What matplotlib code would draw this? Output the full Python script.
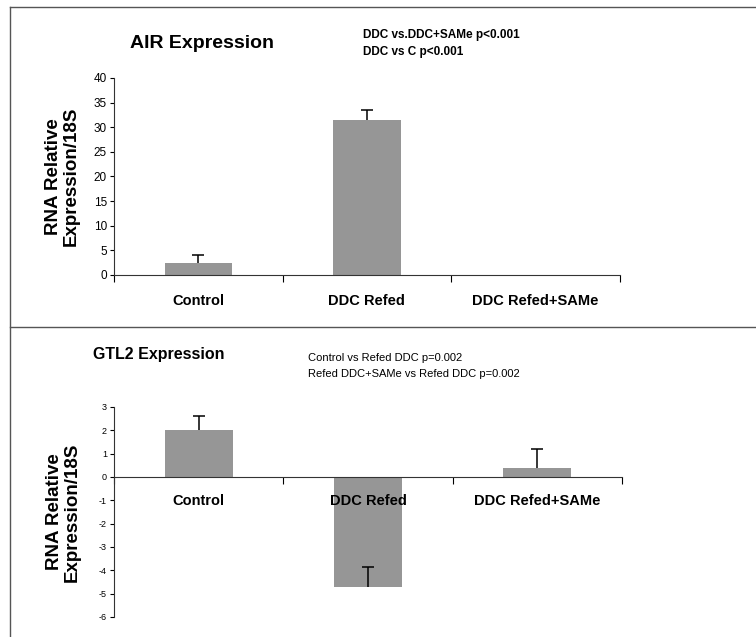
import matplotlib
matplotlib.use('Agg')
import matplotlib.pyplot as plt
from matplotlib.lines import Line2D

plt.rcParams['font.family'] = ['Liberation Sans Narrow', 'Liberation Sans', 'DejaVu Sans']
plt.rcParams['axes.unicode_minus'] = False

# Data
categories = ['Control', 'DDC Refed', 'DDC Refed+SAMe']

air_values = [2.5, 31.5, 0.0]
air_err = [1.5, 2.0, 0.0]

gtl2_values = [2.0, -4.7, 0.4]
gtl2_err = [0.6, 0.85, 0.8]

air_ticks = [0, 5, 10, 15, 20, 25, 30, 35, 40]
gtl2_ticks = [-6, -5, -4, -3, -2, -1, 0, 1, 2, 3]

bar_color = '#969696'
centers = [0.5, 1.5, 2.5]

fig = plt.figure(figsize=(7.56, 6.37), dpi=100)

# Frame lines around the panels
fig.add_artist(Line2D([0.0132, 1.0], [0.989, 0.989], color='#555555', lw=1))
fig.add_artist(Line2D([0.0132, 0.0132], [0.0, 0.989], color='#555555', lw=1))
fig.add_artist(Line2D([0.0132, 1.0], [0.4867, 0.4867], color='#555555', lw=1))


def style_axes(ax, ticks, tick_size, pad):
    ax.set_xlim(0, 3)
    ax.spines['top'].set_visible(False)
    ax.spines['right'].set_visible(False)
    ax.spines['left'].set_color('#333333')
    ax.spines['bottom'].set_color('#333333')
    ax.set_yticks(ticks)
    ax.tick_params(axis='y', length=3, width=0.8, labelsize=tick_size, pad=2)
    ax.set_xticks([0, 1, 2, 3])
    ax.set_xticklabels([])
    ax.tick_params(axis='x', which='major', length=5, width=0.8, direction='out')
    ax.set_xticks(centers, minor=True)
    ax.set_xticklabels(categories, minor=True, fontsize=10.5, fontweight='bold')
    ax.tick_params(axis='x', which='minor', length=0, pad=pad)


def plus_errors(ax, xs, vals, errs):
    # only the upper half of the error bar, with a cap on top
    tops = [v + e for v, e in zip(vals, errs)]
    ax.vlines(xs, vals, tops, color='black', lw=1.1)
    ax.plot(xs, tops, ls='none', marker='_', ms=8, mew=1.1, color='black')


# Top panel: AIR
ax1 = fig.add_axes([0.1508, 0.5683, 0.669, 0.3093])
ax1.bar(centers, air_values, width=0.4, color=bar_color)
plus_errors(ax1, centers[:2], air_values[:2], air_err[:2])
ax1.set_ylim(0, 40)
style_axes(ax1, air_ticks, 8.5, 14)
ax1.set_ylabel('RNA Relative\nExpression/18S', fontsize=13.5, fontweight='bold',
               family=['Liberation Sans', 'DejaVu Sans'], labelpad=10, linespacing=1.05)

fig.text(0.172, 0.932, 'AIR Expression', fontsize=14, fontweight='bold', va='center')
fig.text(0.48, 0.945, 'DDC vs.DDC+SAMe p<0.001', fontsize=8.5, fontweight='bold', va='center')
fig.text(0.48, 0.918, 'DDC vs C p<0.001', fontsize=8.5, fontweight='bold', va='center')

# Bottom panel: GTL2
ax2 = fig.add_axes([0.1508, 0.0314, 0.672, 0.3297])
ax2.bar(centers, gtl2_values, width=0.4, color=bar_color)
plus_errors(ax2, centers, gtl2_values, gtl2_err)
ax2.set_ylim(-6, 3)
ax2.spines['bottom'].set_position(('data', 0))
style_axes(ax2, gtl2_ticks, 6.5, 12)
ax2.set_ylabel('RNA Relative\nExpression/18S', fontsize=13.5, fontweight='bold',
               family=['Liberation Sans', 'DejaVu Sans'], labelpad=13, linespacing=1.05)

fig.text(0.123, 0.443, 'GTL2 Expression', fontsize=11.5, fontweight='bold', va='center')
fig.text(0.408, 0.438, 'Control vs Refed DDC p=0.002', fontsize=8, va='center')
fig.text(0.408, 0.413, 'Refed DDC+SAMe vs Refed DDC p=0.002', fontsize=8, va='center')

plt.savefig('out.png', dpi=100)
